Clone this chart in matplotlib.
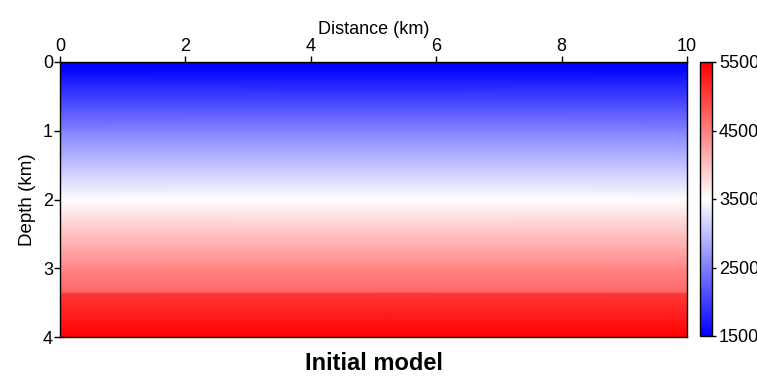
import numpy as np
import matplotlib
matplotlib.use("Agg")
import matplotlib.pyplot as plt

plt.rcParams['font.family'] = ['Liberation Sans', 'DejaVu Sans']

# velocity profile (depth in km, velocity in m/s)
depth_nodes = [0.0, 0.12, 1.0, 2.0, 3.0, 3.35, 3.37, 4.0]
vel_nodes = [1500, 1560, 2520, 3500, 4450, 4700, 5050, 5500]
x_edges = [0.0, 10.0]

x_ticks = [0, 2, 4, 6, 8, 10]
z_ticks = [0, 1, 2, 3, 4]
cbar_ticks = [1500, 2500, 3500, 4500, 5500]

X, Z = np.meshgrid(x_edges, depth_nodes)
V = np.repeat(np.array(vel_nodes, dtype=float)[:, None], len(x_edges), axis=1)

fig = plt.figure(figsize=(7.57, 3.78), dpi=100)
ax = fig.add_axes([60 / 757, 1 - 337 / 378, 627 / 757, 275 / 378])
mesh = ax.pcolormesh(X, Z, V, cmap='bwr', vmin=1500, vmax=5500, shading='gouraud')
ax.set_xlim(0, 10)
ax.set_ylim(4, 0)
ax.xaxis.tick_top()
ax.xaxis.set_label_position('top')
ax.set_xticks(x_ticks)
ax.set_yticks(z_ticks)
ax.tick_params(direction='out', length=4, width=1, labelsize=13, pad=1)
ax.set_xlabel('Distance (km)', fontsize=13, labelpad=3)
ax.set_ylabel('Depth (km)', fontsize=13.5, labelpad=5)
for s in ax.spines.values():
    s.set_linewidth(1)
ax.set_title('Initial model', fontsize=17, fontweight='bold', y=-0.12, pad=0)

cax = fig.add_axes([700 / 757, 1 - 336 / 378, 12 / 757, 274 / 378])
cb = fig.colorbar(mesh, cax=cax, ticks=cbar_ticks)
cb.ax.tick_params(direction='out', length=3, width=1, labelsize=13, pad=2)
cb.outline.set_linewidth(1)

fig.savefig('out.png', dpi=100)
